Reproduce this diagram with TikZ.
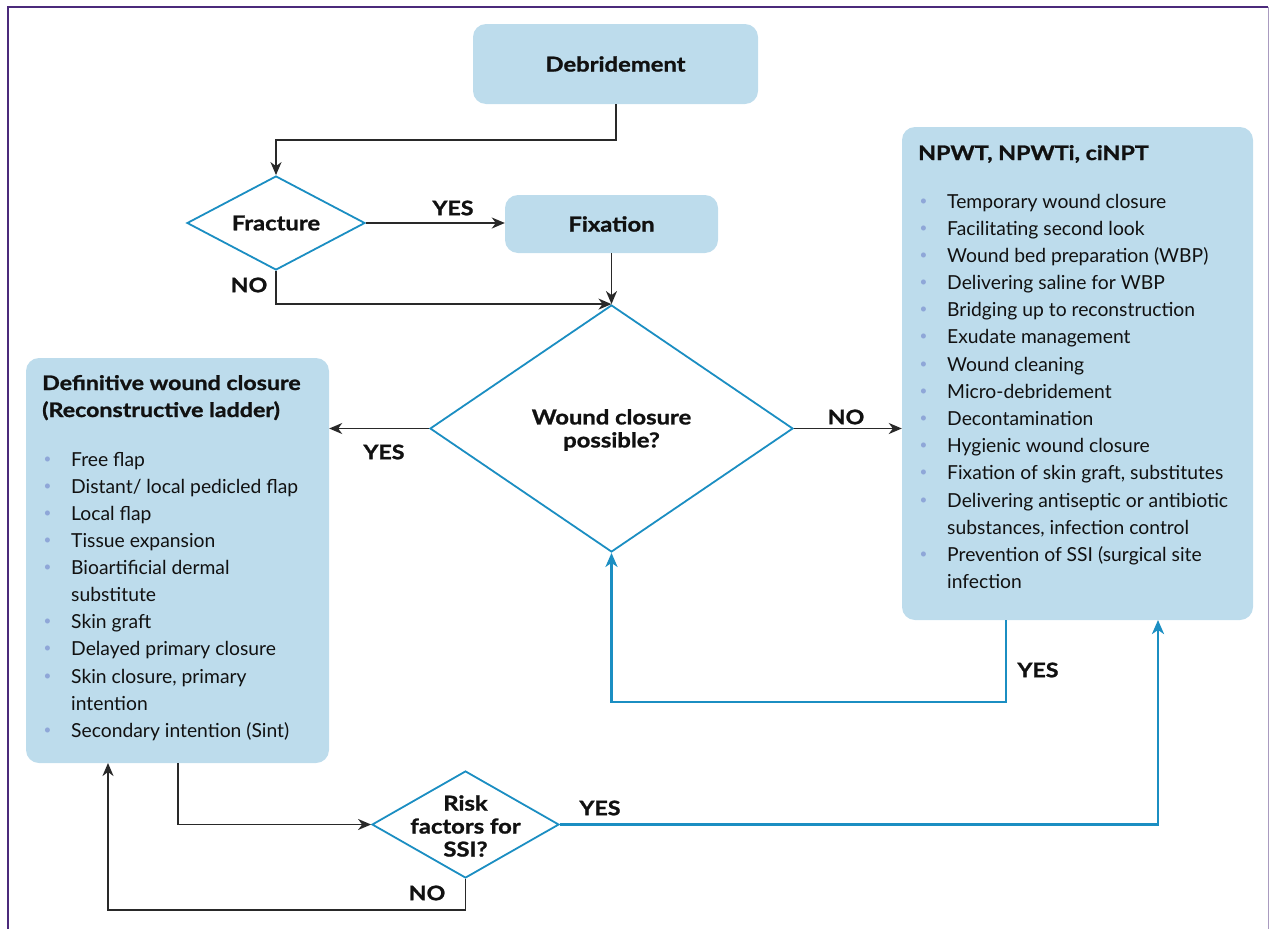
\documentclass[tikz,border=0pt]{standalone}
\usepackage{fontspec}
\setmainfont{Lato}
\newfontfamily\hb{Lato}[FakeStretch=1.16, BoldFeatures={FakeBold=1.2}]
\usetikzlibrary{arrows.meta,shapes.geometric}
\definecolor{boxfill}{HTML}{BDDCEC}
\definecolor{dblue}{HTML}{1B8EC2}
\definecolor{bulletc}{HTML}{8FA7D8}
\definecolor{framec}{HTML}{4B2A7B}
\definecolor{framer}{HTML}{A99BC0}
\definecolor{ink}{HTML}{111111}
\newcommand\bl{\makebox[29pt][l]{\hspace{1.5pt}\raisebox{0.3ex}{\textcolor{bulletc}{\scalebox{0.7}{\textbullet}}}}}
\tikzset{
  x=1pt, y=-1pt,
  box/.style={draw=none, fill=boxfill, rounded corners=13pt, inner sep=0pt},
  boxtxt/.style={font=\hb\fontsize{20.5}{24}\selectfont\bfseries, text=ink},
  dia/.style={diamond, draw=dblue, line width=1.8pt, fill=white, inner sep=0pt},
  diatxt/.style={font=\hb\fontsize{20.5}{23}\selectfont\bfseries, text=ink, align=center},
  conn/.style={draw=ink!90, line width=1.7pt, -{Stealth[length=13pt,width=11pt,inset=4pt]}},
  bconn/.style={draw=dblue, line width=2.7pt, -{Stealth[length=14pt,width=12pt,inset=4pt]}},
  lbl/.style={font=\hb\fontsize{20}{23}\selectfont\bfseries, text=ink, inner sep=0pt},
  ltitle/.style={font=\hb\fontsize{20}{24}\selectfont\bfseries, text=ink, inner sep=0pt, anchor=base west},
  litem/.style={font=\fontsize{19.3}{24}\selectfont, text=ink, inner sep=0pt, anchor=base west},
}
\begin{document}
\begin{tikzpicture}
\useasboundingbox (0,0) rectangle (1270,929);
% frame
\draw[framec, line width=1.6pt] (8,929) -- (8,7) -- (1268,7);
\draw[framer, line width=1.2pt] (1268.5,7) -- (1268.5,929);

% boxes
\node[box, minimum width=285pt, minimum height=80pt] (deb) at (615.5,64) {};
\node[boxtxt] (debt) at (615.5,64) {Debridement};
\node[box, minimum width=213pt, minimum height=58pt] (fix) at (611.5,224) {};
\node[boxtxt] (fixt) at (611.5,224) {Fixation};
\node[box, minimum width=303pt, minimum height=405pt] (left) at (177.5,560.5) {};
\node[box, minimum width=351pt, minimum height=493pt] (right) at (1077.5,373.5) {};

% diamonds
\node[dia, minimum width=178pt, minimum height=94pt] (frac) at (276,223) {};
\node[diatxt] (fract) at (276,223) {Fracture};
\node[dia, minimum width=363pt, minimum height=247pt] (main) at (611.5,428.5) {};
\node[diatxt] (maint) at (611.5,430) {Wound closure\\possible?};
\node[dia, minimum width=187pt, minimum height=107pt] (risk) at (465.5,824.5) {};
\node[diatxt] (riskt) at (465.5,826) {Risk\\factors for\\SSI?};

% left list
\node[ltitle] (lt1) at (42,390) {Definitive wound closure};
\node[ltitle] (lt2) at (42,417) {(Reconstructive ladder)};
\foreach \yy/\xx/\t [count=\i] in {466/42/{\bl Free flap}, 493/42/{\bl Distant/ local pedicled flap},
  520/42/{\bl Local flap}, 547/42/{\bl Tissue expansion}, 574/42/{\bl Bioartificial dermal},
  601/71/{substitute}, 628/42/{\bl Skin graft}, 655/42/{\bl Delayed primary closure},
  683/42/{\bl Skin closure, primary}, 710/71/{intention}, 737/42/{\bl Secondary intention (Sint)}}
  \node[litem] (li\i) at (\xx,\yy) {\t};

% right list
\node[ltitle] (rt1) at (918,160) {NPWT, NPWTi, ciNPT};
\foreach \yy/\xx/\t [count=\i] in {208/918/{\bl Temporary wound closure}, 235/918/{\bl Facilitating second look},
  262/918/{\bl Wound bed preparation (WBP)}, 289/918/{\bl Delivering saline for WBP},
  316/918/{\bl Bridging up to reconstruction}, 343/918/{\bl Exudate management},
  371/918/{\bl Wound cleaning}, 398/918/{\bl Micro-debridement}, 425/918/{\bl Decontamination},
  452/918/{\bl Hygienic wound closure}, 479/918/{\bl Fixation of skin graft, substitutes},
  507/918/{\bl Delivering antiseptic or antibiotic}, 534/947/{substances, infection control},
  561/918/{\bl Prevention of SSI (surgical site}, 588/947/{infection}}
  \node[litem] (ri\i) at (\xx,\yy) {\t};

% coordinates for connector ends
\coordinate (debout) at (616,104);
\coordinate (rsout) at (1006,620);
\coordinate (rsin) at (1158,620);
\coordinate (lsout) at (178,763);
\coordinate (lsin) at (108,763);

% connectors
\draw[conn] (debout) -- (616,140) -| (frac.north);
\draw[conn] (frac.east) -- (frac.east -| fix.west);
\draw[conn] (fix.south) -- (main.north);
\draw[conn] (frac.south) |- (main.north);
\draw[conn] (main.west) -- (main.west -| left.east);
\draw[conn] (main.east) -- (main.east -| right.west);
\draw[bconn] (rsout) -- (1006,702) -| (main.south);
\draw[conn] (lsout) |- (risk.west);
\draw[bconn] (risk.east) -| (rsin);
\draw[conn] (risk.south) -- (465.5,910) -| (lsin);

% labels
\node[lbl] (l1) at (453,208) {YES};
\node[lbl] (l2) at (249,285) {NO};
\node[lbl] (l3) at (384,452) {YES};
\node[lbl] (l4) at (846,417) {NO};
\node[lbl] (l5) at (1038,670) {YES};
\node[lbl] (l6) at (600,808) {YES};
\node[lbl] (l7) at (427,893) {NO};
\end{tikzpicture}
\end{document}
